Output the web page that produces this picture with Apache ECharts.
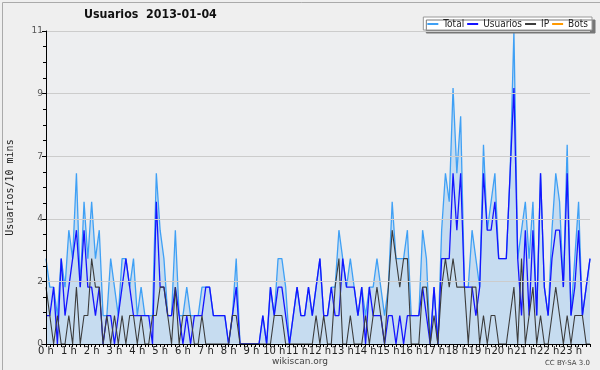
<!DOCTYPE html>
<html>
<head>
<meta charset="utf-8">
<script src="https://cdn.jsdelivr.net/npm/echarts@6/dist/echarts.min.js"></script>
<style>
html,body{margin:0;padding:0;background:#efefef;}
#c{width:600px;height:370px;}
</style>
</head>
<body>
<div id="c"></div>
<script>
// 10-minute slots over the day (0:00 .. 23:50)
const hours = ["0 h","1 h","2 h","3 h","4 h","5 h","6 h","7 h","8 h","9 h","10 h","11 h","12 h","13 h","14 h","15 h","16 h","17 h","18 h","19 h","20 h","21 h","22 h","23 h"];
const categories = [];
for (let h = 0; h < 24; h++) for (let m = 0; m < 60; m += 10) categories.push(h + ":" + (m < 10 ? "0" + m : m));

const total = [3,2,2,1,3,2,4,3,6,2,5,3,5,3,4,1,1,3,2,1,3,3,2,3,1,2,1,1,1,6,4,3,1,1,4,1,
  1,2,1,1,1,2,2,2,1,1,1,1,0,1,3,0,0,0,0,0,0,1,0,2,1,3,3,2,0,1,2,1,1,2,1,2,
  3,1,1,2,2,4,3,2,3,2,1,2,1,2,2,3,2,1,2,5,3,3,3,4,1,1,1,4,3,0,2,0,4,6,5,9,
  6,8,2,2,4,3,2,7,4,5,6,3,3,3,6,11,3,4,5,3,5,1,6,2,1,4,6,5,2,7,1,3,5,1,2,3];
const usuarios = [1,1,2,0,3,1,2,3,4,2,4,2,2,1,2,0,1,1,0,1,2,3,2,1,1,1,1,1,0,5,2,2,1,1,2,1,
  0,1,0,1,1,1,2,2,1,1,1,1,0,1,2,0,0,0,0,0,0,1,0,2,1,2,2,1,0,1,2,1,1,2,1,2,
  3,1,1,2,1,1,3,2,2,2,1,2,0,2,1,1,1,0,1,1,0,1,0,1,1,1,1,2,1,0,2,0,3,3,3,6,
  4,6,2,2,2,1,2,6,4,4,5,3,3,3,6,9,3,1,4,1,4,1,6,2,1,3,4,4,2,6,1,2,4,1,2,3];
const ip = [2,1,0,1,0,0,1,0,2,0,1,1,3,2,2,0,1,0,1,0,1,0,1,1,0,1,0,0,1,1,2,2,1,0,2,0,
  1,1,1,0,0,1,0,0,0,0,0,0,0,1,1,0,0,0,0,0,0,0,0,0,1,1,1,0,0,0,0,0,0,0,0,1,
  0,1,0,0,2,3,0,0,1,0,0,0,1,0,1,2,1,0,2,4,3,2,3,3,0,0,0,2,2,0,1,0,2,3,2,3,
  2,2,2,0,2,2,0,1,0,1,1,0,0,0,1,2,0,3,0,1,2,0,1,0,0,1,2,1,0,1,0,1,1,1,0,0];
const bots = [0,0,0,0,0,0,0,0,0,0,0,0,0,0,0,0,0,0,0,0,0,0,0,0,0,0,0,0,0,0,0,0,0,0,0,0,
  0,0,0,0,0,0,0,0,0,0,0,0,0,0,0,0,0,0,0,0,0,0,0,0,0,0,0,0,0,0,0,0,0,0,0,0,
  0,0,0,0,0,0,0,0,0,0,0,0,0,0,0,0,0,0,0,0,0,0,0,0,0,0,0,0,0,0,0,0,0,0,0,0,
  0,0,0,0,0,0,0,0,0,0,0,0,0,0,0,0,0,0,0,0,0,0,0,0,0,0,0,0,0,0,0,0,0,0,0,0];

const FONT = "DejaVu Sans";
const COND = "DejaVu Sans Condensed, DejaVu Sans";
const chart = echarts.init(document.getElementById('c'), null, {renderer: 'canvas'});
chart.setOption({
  backgroundColor: '#efefef',
  animation: false,
  title: {
    text: 'Usuarios  2013-01-04',
    left: 84, top: 9, padding: 0,
    textStyle: {fontFamily: COND, fontWeight: 'bold', fontSize: 12.3, color: '#111'}
  },
  legend: {
    right: 8, top: 17,
    padding: [2, 4, 1, 4],
    itemGap: 3, itemWidth: 11, itemHeight: 2,
    backgroundColor: '#ffffff',
    borderColor: '#999', borderWidth: 1,
    shadowColor: '#777', shadowBlur: 0, shadowOffsetX: 3, shadowOffsetY: 3,
    textStyle: {fontFamily: COND, fontSize: 10, color: '#222'},
    data: [
      {name: 'Total', icon: 'rect'},
      {name: 'Usuarios', icon: 'rect'},
      {name: 'IP', icon: 'rect'},
      {name: 'Bots', icon: 'rect'}
    ]
  },
  grid: {left: 46, right: 10, top: 31, bottom: 26, outerBoundsMode: 'none', containLabel: false,
         show: true, backgroundColor: '#edeef0', borderWidth: 0},
  xAxis: {
    type: 'category', data: categories, boundaryGap: false, z: 10,
    axisLine: {lineStyle: {color: '#000', width: 1}},
    axisTick: {show: true, interval: 0, length: 3, lineStyle: {color: '#000'}},
    axisLabel: {
      interval: 5, margin: 2, fontFamily: FONT, fontSize: 10, color: '#222',
      formatter: (v, i) => hours[Math.floor(i / 6)]
    },
    splitLine: {show: false}
  },
  yAxis: {
    type: 'value', min: 0, max: 11, interval: 2.2, z: 10,
    name: 'Usuarios/10 mins', nameLocation: 'middle', nameGap: 31, nameRotate: 90,
    nameTextStyle: {fontFamily: 'DejaVu Sans Mono', fontSize: 10, color: '#222'},
    axisLine: {show: true, lineStyle: {color: '#000', width: 1}},
    axisTick: {show: true, length: 4, lineStyle: {color: '#000'}},
    minorTick: {show: true, splitNumber: 4, length: 3, lineStyle: {color: '#000'}},
    axisLabel: {margin: 3, fontFamily: FONT, fontSize: 9, color: '#555', formatter: v => Math.round(v)},
    splitLine: {show: true, lineStyle: {color: '#cccccc', width: 1}}
  },
  series: [
    {name: 'Total', type: 'line', data: total, showSymbol: false, symbol: 'none',
     lineStyle: {color: '#3fa0f5', width: 1.3}, itemStyle: {color: '#3fa0f5'},
     areaStyle: {color: '#c6dcf0', opacity: 1}, z: 2},
    {name: 'Usuarios', type: 'line', data: usuarios, showSymbol: false, symbol: 'none',
     lineStyle: {color: '#1414ff', width: 1.3}, itemStyle: {color: '#1414ff'}, z: 3},
    {name: 'IP', type: 'line', data: ip, showSymbol: false, symbol: 'none',
     lineStyle: {color: '#3c3c3c', width: 1.1}, itemStyle: {color: '#3c3c3c'}, z: 4},
    {name: 'Bots', type: 'line', data: bots, showSymbol: false, symbol: 'none',
     lineStyle: {color: '#ff9900', width: 1}, itemStyle: {color: '#ff9900'}, z: 1}
  ],
  graphic: [
    {type: 'rect', left: 0, top: 0, shape: {x: 0.5, y: 0.5, width: 599, height: 369},
     style: {fill: 'none', stroke: '#aaaaaa', lineWidth: 1}, z: 100, silent: true},
    {type: 'text', left: 'center', top: 357, style: {text: 'wikiscan.org', font: '9px DejaVu Sans', fill: '#444'}},
    {type: 'text', right: 10, top: 360, style: {text: 'CC BY-SA 3.0', font: '7px DejaVu Sans', fill: '#444'}}
  ]
});
</script>
</body>
</html>
